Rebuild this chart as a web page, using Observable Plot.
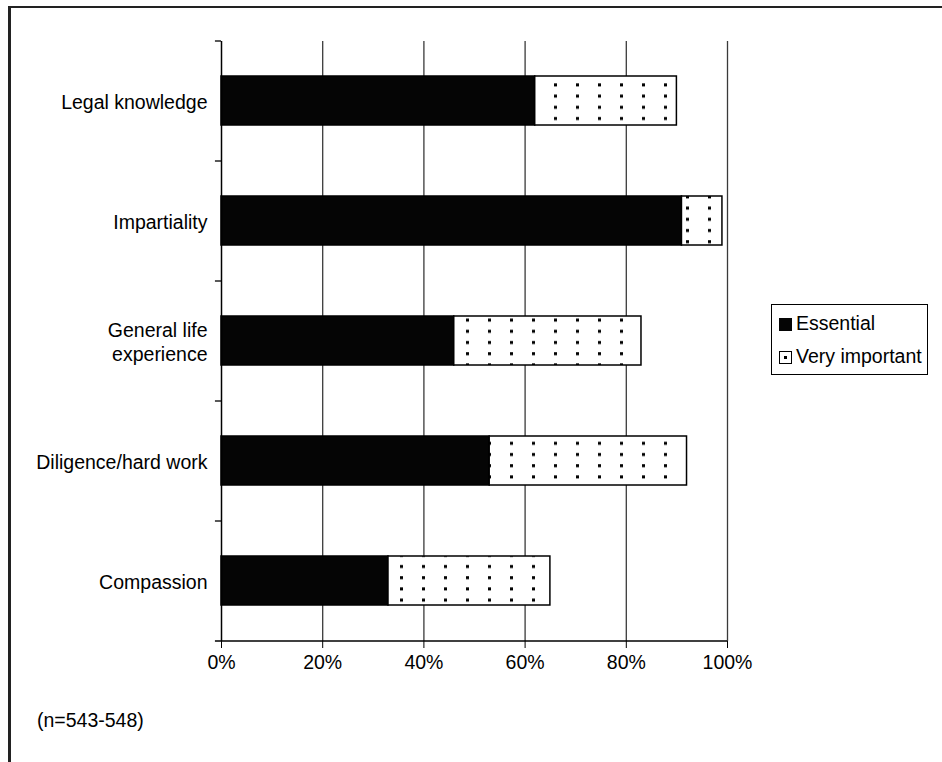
<!DOCTYPE html>
<html>
<head>
<meta charset="utf-8">
<script src="https://cdn.jsdelivr.net/npm/d3@7"></script>
<script src="https://cdn.jsdelivr.net/npm/@observablehq/plot@0.6"></script>
<style>
  html, body { margin: 0; padding: 0; background: #fff; overflow: hidden; }
  #wrap { position: relative; width: 942px; height: 762px; overflow: hidden; font-family: "Liberation Sans", Arial, sans-serif; }
  #frameTop { position: absolute; left: 8px; top: 6px; width: 960px; height: 2px; background: #222; }
  #frameLeft { position: absolute; left: 8px; top: 6px; width: 2.5px; height: 800px; background: #222; }
  #chart { position: absolute; left: 0; top: 0; }
  #legend { position: absolute; left: 771px; top: 304px; width: 155px; height: 69px; border: 1.5px solid #000; background: #fff; font-size: 19.5px; }
  .item { position: absolute; left: 7px; white-space: nowrap; line-height: 22px; }
  .sw { display: inline-block; width: 13px; height: 13px; box-sizing: border-box; vertical-align: -1px; margin-right: 4px; position: relative; }
  #caption { position: absolute; left: 37px; top: 709px; font-size: 19.5px; }
</style>
</head>
<body>
<svg width="0" height="0" style="position:absolute">
  <defs>
    <pattern id="dots" patternUnits="userSpaceOnUse" x="0" y="2" width="22" height="11.2">
      <rect width="22" height="11.2" fill="#fff"></rect>
      <rect x="4" y="3" width="3" height="3" fill="#000"></rect>
    </pattern>
  </defs>
</svg>
<div id="wrap">
  <div id="frameTop"></div>
  <div id="frameLeft"></div>
  <div id="chart"></div>
  <div id="legend"></div>
  <div id="caption"></div>
</div>
<script>
const categories = ["Legal knowledge", "Impartiality", "General life\nexperience", "Diligence/hard work", "Compassion"];
const series = ["Essential", "Very important"];
const essential = [62, 91, 46, 53, 33];
const veryImportant = [28, 8, 37, 39, 32];
const xTicks = [0, 20, 40, 60, 80, 100];
const captionText = "(n=543-548)";

const data = [];
categories.forEach((c, i) => {
  data.push({cat: c, series: series[0], value: essential[i]});
  data.push({cat: c, series: series[1], value: veryImportant[i]});
});

const chart = Plot.plot({
  width: 942,
  height: 762,
  marginLeft: 221,
  marginRight: 215,
  marginTop: 41,
  marginBottom: 121,
  style: {fontFamily: "'Liberation Sans', Arial, sans-serif", fontSize: "19.5px", color: "#000", background: "transparent"},
  x: {domain: [0, 100], ticks: xTicks, tickFormat: d => d + "%", tickSize: 7, tickPadding: 7, label: null, line: false},
  y: {domain: categories, paddingInner: 0.59, paddingOuter: 0.295, axis: null},
  color: {domain: series, range: ["#050505", "url(#dots)"]},
  marks: [
    Plot.ruleX(xTicks.slice(1), {stroke: "#3a3a3a", strokeWidth: 1.3}),
    Plot.barX(data, {x: "value", y: "cat", fill: "series", stroke: "#000", strokeWidth: 1.5}),
    Plot.ruleX([0], {stroke: "#000", strokeWidth: 1.5}),
    Plot.ruleY(categories, {y: d => d, x1: -1.2, x2: 0, dy: -60, stroke: "#000", strokeWidth: 1.3}),
    Plot.ruleY([categories[categories.length - 1]], {y: d => d, x1: -1.2, x2: 100, dy: 60, stroke: "#000", strokeWidth: 1.5}),
    Plot.text(categories, {y: d => d, x: 0, dx: -14, textAnchor: "end", text: d => d, lineHeight: 1.23, fill: "#000"})
  ]
});
document.getElementById("chart").appendChild(chart);

// legend
const legend = document.getElementById("legend");
series.forEach((s, i) => {
  const item = document.createElement("div");
  item.className = "item";
  item.style.top = (i === 0 ? 7 : 40) + "px";
  const sw = document.createElement("span");
  sw.className = "sw";
  if (i === 0) {
    sw.style.background = "#050505";
  } else {
    sw.style.border = "1.5px solid #000";
    sw.style.background = "#fff";
    const dot = document.createElement("span");
    dot.style.cssText = "position:absolute;left:3.5px;top:3.5px;width:3px;height:3px;background:#000";
    sw.appendChild(dot);
  }
  item.appendChild(sw);
  item.appendChild(document.createTextNode(s));
  legend.appendChild(item);
});
document.getElementById("caption").textContent = captionText;
</script>
</body>
</html>
